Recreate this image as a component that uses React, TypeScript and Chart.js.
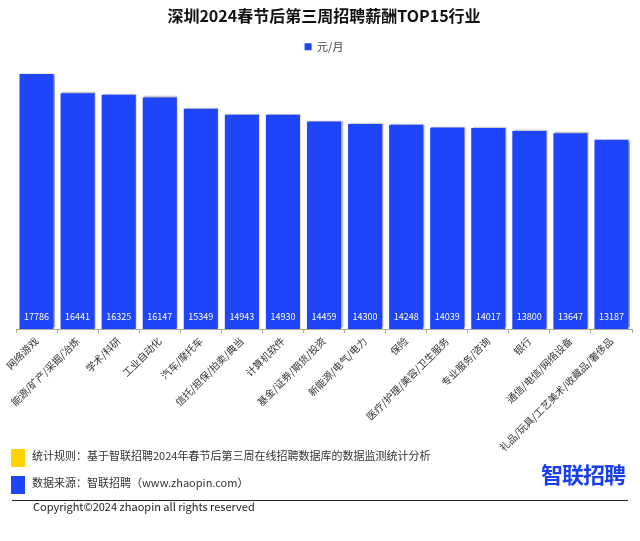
import React, { useEffect, useRef } from "react";
import { Chart, registerables } from "chart.js";

Chart.register(...registerables);

const TITLE = "深圳2024春节后第三周招聘薪酬TOP15行业";
const SERIES_LABEL = "元/月";
const categories = [
  "网络游戏",
  "能源/矿产/采掘/冶炼",
  "学术/科研",
  "工业自动化",
  "汽车/摩托车",
  "信托/担保/拍卖/典当",
  "计算机软件",
  "基金/证券/期货/投资",
  "新能源/电气/电力",
  "保险",
  "医疗/护理/美容/卫生服务",
  "专业服务/咨询",
  "银行",
  "通信/电信/网络设备",
  "礼品/玩具/工艺美术/收藏品/奢侈品",
];
const salaries = [17786, 16441, 16325, 16147, 15349, 14943, 14930, 14459, 14300, 14248, 14039, 14017, 13800, 13647, 13187];

const BLUE = "#1f45f9";
const FONT = "'Noto Sans CJK SC', 'Noto Sans', sans-serif";

export default function App() {
  const ref = useRef<HTMLCanvasElement | null>(null);
  useEffect(() => {
    if (!ref.current) return;
    const shadowPlugin = {
      id: "barShadow",
      beforeDatasetsDraw(chart: any) {
        const c = chart.ctx;
        c.save();
        c.shadowColor = "rgba(0,0,0,0.35)";
        c.shadowOffsetX = 1.5;
        c.shadowOffsetY = -1;
        c.shadowBlur = 1.5;
      },
      afterDatasetsDraw(chart: any) {
        const c = chart.ctx;
        c.restore();
        const meta = chart.getDatasetMeta(0);
        c.save();
        c.fillStyle = "#ffffff";
        c.font = `9px ${FONT}`;
        c.textAlign = "center";
        c.textBaseline = "middle";
        meta.data.forEach((bar: any, i: number) => {
          c.fillText(String(salaries[i]), bar.x, bar.base - 12);
        });
        c.restore();
      },
    };
    const chart = new Chart(ref.current, {
      type: "bar",
      data: {
        labels: categories,
        datasets: [
          {
            label: SERIES_LABEL,
            data: salaries,
            backgroundColor: BLUE,
            borderWidth: 0,
            barPercentage: 0.83,
            categoryPercentage: 1,
          },
        ],
      },
      options: {
        animation: false,
        responsive: false,
        maintainAspectRatio: false,
        layout: { padding: { left: 16, right: 8, top: 6, bottom: 0 } },
        plugins: {
          title: {
            display: true,
            text: TITLE,
            color: "#111",
            font: { family: FONT, size: 16, weight: "bold" },
            padding: { top: 0, bottom: 6 },
          },
          legend: {
            display: true,
            labels: {
              boxWidth: 7,
              boxHeight: 7,
              color: "#444",
              font: { family: FONT, size: 11 },
              padding: 10,
            },
          },
          tooltip: { enabled: false },
        },
        scales: {
          y: { display: false, min: 0, max: 18600 },
          x: {
            afterFit(scale: any) {
              scale.height = 212;
            },
            border: { display: true, color: "#aaa" },
            grid: {
              display: true,
              drawOnChartArea: false,
              drawTicks: true,
              tickLength: 4,
              color: "#aaa",
              offset: true,
            },
            ticks: {
              autoSkip: false,
              minRotation: 45,
              maxRotation: 45,
              color: "#333",
              font: { family: FONT, size: 10 },
              padding: 2,
            },
          },
        },
      },
      plugins: [shadowPlugin],
    });
    return () => chart.destroy();
  }, []);

  return (
    <div style={{ position: "absolute", left: 0, top: 0, width: 640, height: 541, background: "#fff", overflow: "hidden", fontFamily: FONT }}>
      <canvas ref={ref} width={640} height={541} style={{ position: "absolute", left: 0, top: 0, width: 640, height: 541 }} />
      <div style={{ position: "absolute", left: 11, top: 449, width: 14, height: 18, background: "#ffd200" }} />
      <div style={{ position: "absolute", left: 32, top: 446, fontSize: 11, color: "#333", lineHeight: "18px", whiteSpace: "nowrap" }}>
        统计规则：基于智联招聘2024年春节后第三周在线招聘数据库的数据监测统计分析
      </div>
      <div style={{ position: "absolute", left: 11, top: 476, width: 14, height: 18, background: BLUE }} />
      <div style={{ position: "absolute", left: 32, top: 473, fontSize: 11, color: "#333", lineHeight: "18px", whiteSpace: "nowrap" }}>
        数据来源：智联招聘（www.zhaopin.com）
      </div>
      <div style={{ position: "absolute", left: 541, top: 458, fontSize: 22, fontWeight: "bold", color: "#1a3ff0", lineHeight: "30px", whiteSpace: "nowrap", letterSpacing: -1 }}>
        智联招聘
      </div>
      <div style={{ position: "absolute", left: 12, top: 500, width: 616, height: 1, background: "#222" }} />
      <div style={{ position: "absolute", left: 33, top: 498, fontSize: 11, color: "#222", lineHeight: "16px", whiteSpace: "nowrap" }}>
        Copyright©2024 zhaopin all rights reserved
      </div>
    </div>
  );
}
